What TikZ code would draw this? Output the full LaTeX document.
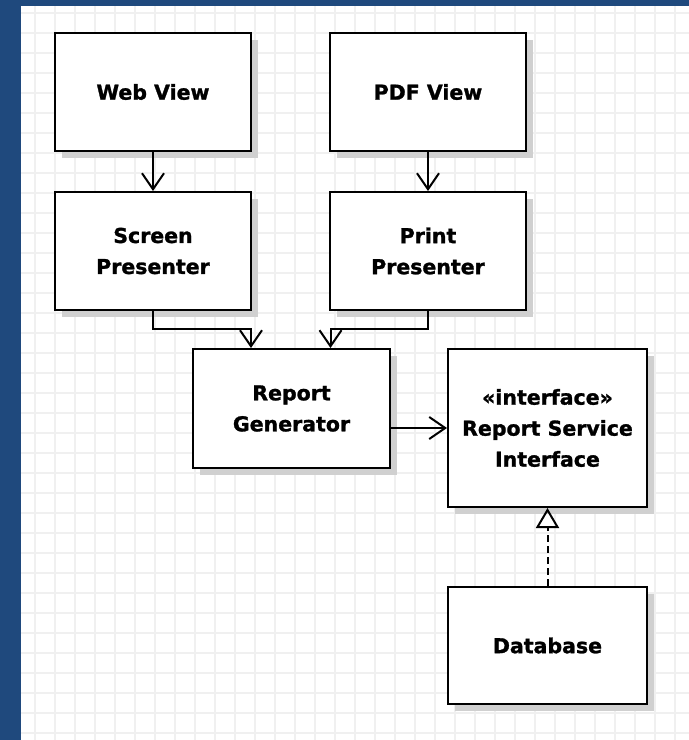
\documentclass[tikz,border=0pt]{standalone}
\usepackage{fontspec}
\newfontfamily\boxfont[FakeBold=1.3]{DejaVu Sans}
\usetikzlibrary{arrows.meta,shadows,calc}

\definecolor{frameblue}{RGB}{31,73,125}
\definecolor{gridgray}{RGB}{240,240,240}
\definecolor{shadowgray}{RGB}{208,208,208}

\tikzset{
  umlbox/.style={draw=black, line width=2pt, fill=white, align=center,
    inner sep=0pt, minimum width=196pt, minimum height=118pt,
    font=\boxfont\bfseries\fontsize{20.5}{31}\selectfont,
    drop shadow={shadow xshift=7pt, shadow yshift=-7pt, fill=shadowgray, opacity=1}},
  dep/.style={draw=black, line width=2pt,
    -{Straight Barb[length=16pt, width=22pt, line width=2pt]}},
  realize/.style={draw=black, line width=2pt, dash pattern=on 7pt off 4pt,
    -{Triangle[open, length=20pt, width=23pt, line width=2pt]}},
  gridline/.style={draw=gridgray, line width=2.2pt}
}

\begin{document}
\begin{tikzpicture}[x=1pt, y=-1pt]
  % canvas: blue frame and gridded sheet
  \fill[frameblue] (0,0) rectangle (689,740);
  \fill[white] (21,6) rectangle (689,740);
  \useasboundingbox (0,0) rectangle (689,740);
  \foreach \gx in {35,55,...,689} \draw[gridline] (\gx,6) -- (\gx,740);
  \foreach \gy in {13,33,...,740} \draw[gridline] (21,\gy) -- (689,\gy);

  % classes
  \node[umlbox] (web)    at (153,92)    {Web View};
  \node[umlbox] (pdf)    at (428,92)    {PDF View};
  \node[umlbox] (screen) at (153,251)   {Screen\\Presenter};
  \node[umlbox] (print)  at (428,251)   {Print\\Presenter};
  \node[umlbox, minimum width=197pt, minimum height=119pt] (gen) at (291.5,408.5) {Report\\Generator};
  \node[umlbox, minimum width=199pt, minimum height=158pt] (iface) at (547.5,428) {«interface»\\Report Service\\Interface};
  \node[umlbox, minimum width=199pt, minimum height=117pt] (db) at (547.5,645.5) {Database};

  % dependencies
  \draw[dep] (web.south) -- (screen.north);
  \draw[dep] (pdf.south) -- (print.north);
  \draw[dep] (screen.south) -- ++(0,18) -| ([xshift=-40.5pt]gen.north);
  \draw[dep] (print.south) -- ++(0,18) -| ([xshift=39pt]gen.north);
  \draw[dep] (gen.east |- iface.west) -- (iface.west);

  % realization
  \draw[realize] (db.north) -- (iface.south);
\end{tikzpicture}
\end{document}
